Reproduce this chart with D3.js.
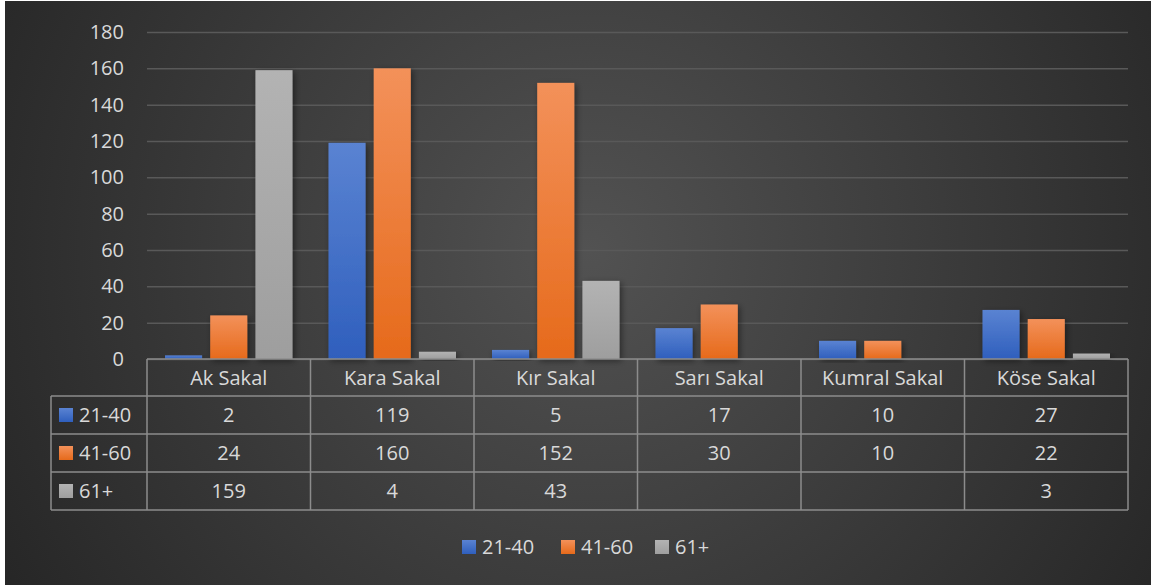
<!DOCTYPE html>
<html>
<head>
<meta charset="utf-8">
<script src="https://cdn.jsdelivr.net/npm/d3@7"></script>
<style>
  body { margin: 0; background: #fff; }
  text { font-family: "Open Sans", "Noto Sans", sans-serif; fill: #d9d9d9; }
</style>
</head>
<body>
<div id="chart"></div>
<script>
// data
var categories = ["Ak Sakal", "Kara Sakal", "Kır Sakal", "Sarı Sakal", "Kumral Sakal", "Köse Sakal"];
var seriesNames = ["21-40", "41-60", "61+"];
var values2140 = [2, 119, 5, 17, 10, 27];
var values4160 = [24, 160, 152, 30, 10, 22];
var values61 = [159, 4, 43, null, null, 3];
var yTicks = [0, 20, 40, 60, 80, 100, 120, 140, 160, 180];

var seriesValues = [values2140, values4160, values61];
var colorsTop = ["#5a83d2", "#f3915a", "#b3b3b3"];
var colorsBottom = ["#2f5fbd", "#e66a1b", "#9e9e9e"];
var legendFill = ["#4472c4", "#ed7d31", "#a5a5a5"];

var W = 1153, H = 588;
var plot = {left: 147, right: 1128, top: 32, bottom: 359};
var rowH = [37, 38, 38, 38];

var svg = d3.select("#chart").append("svg")
    .attr("width", W)
    .attr("height", H);

var defs = svg.append("defs");
var bg = defs.append("radialGradient")
    .attr("id", "bg")
    .attr("gradientUnits", "userSpaceOnUse")
    .attr("cx", 590).attr("cy", 250).attr("r", 680);
bg.append("stop").attr("offset", "0%").attr("stop-color", "#525252");
bg.append("stop").attr("offset", "100%").attr("stop-color", "#262626");

seriesNames.forEach(function(s, i) {
    var g = defs.append("linearGradient")
        .attr("id", "bar" + i)
        .attr("x1", 0).attr("y1", 0).attr("x2", 0).attr("y2", 1);
    g.append("stop").attr("offset", "0%").attr("stop-color", colorsTop[i]);
    g.append("stop").attr("offset", "100%").attr("stop-color", colorsBottom[i]);
});

var shadow = defs.append("filter").attr("id", "shadow")
    .attr("x", "-30%").attr("y", "-10%").attr("width", "160%").attr("height", "130%");
shadow.append("feDropShadow")
    .attr("dx", 2).attr("dy", 2).attr("stdDeviation", 3)
    .attr("flood-color", "#000").attr("flood-opacity", 0.45);

// background
svg.append("rect")
    .attr("x", 5).attr("y", 1)
    .attr("width", 1146).attr("height", 584)
    .attr("fill", "url(#bg)");

// scales
var y = d3.scaleLinear().domain([0, 180]).range([plot.bottom, plot.top]);
var x0 = d3.scaleBand().domain(categories).range([plot.left, plot.right]).padding(0);
var x1 = d3.scaleBand().domain(seriesNames).range([18, x0.bandwidth() - 18]).paddingInner(0.18);

// gridlines + y axis
var yAxis = svg.append("g")
    .attr("transform", "translate(" + plot.left + ",0)")
    .call(d3.axisLeft(y)
        .tickValues(yTicks)
        .tickSizeInner(-(plot.right - plot.left))
        .tickSizeOuter(0)
        .tickPadding(23));
yAxis.select(".domain").remove();
yAxis.selectAll("line").attr("stroke", "#595959").attr("stroke-width", 1.5);
yAxis.selectAll("text")
    .style("font-size", "20px")
    .style("font-family", "'Open Sans', sans-serif")
    .attr("fill", "#d9d9d9");

// bars
var groups = svg.append("g").selectAll("g")
    .data(categories)
    .enter().append("g")
    .attr("transform", function(d) { return "translate(" + x0(d) + ",0)"; });

groups.selectAll("rect")
    .data(function(d, ci) {
        return seriesNames.map(function(s, si) { return {s: s, si: si, v: seriesValues[si][ci]}; })
            .filter(function(e) { return e.v != null; });
    })
    .enter().append("rect")
    .attr("x", function(d) { return x1(d.s); })
    .attr("y", function(d) { return y(d.v); })
    .attr("width", x1.bandwidth())
    .attr("height", function(d) { return y(0) - y(d.v); })
    .attr("fill", function(d) { return "url(#bar" + d.si + ")"; })
    .attr("filter", "url(#shadow)");

// data table
var lineColor = "#8c8c8c";
var tbl = svg.append("g");
var rowY = [plot.bottom];
rowH.forEach(function(h, i) { rowY.push(rowY[i] + h); });
var tableLeft = 51;

// horizontal lines
tbl.append("line")
    .attr("x1", plot.left).attr("x2", plot.right)
    .attr("y1", rowY[0]).attr("y2", rowY[0]);
for (var r = 1; r < rowY.length; r++) {
    tbl.append("line")
        .attr("x1", tableLeft).attr("x2", plot.right)
        .attr("y1", rowY[r]).attr("y2", rowY[r]);
}
// vertical lines
tbl.append("line")
    .attr("x1", tableLeft).attr("x2", tableLeft)
    .attr("y1", rowY[1]).attr("y2", rowY[rowY.length - 1]);
categories.forEach(function(c) {
    tbl.append("line")
        .attr("x1", x0(c)).attr("x2", x0(c))
        .attr("y1", rowY[0]).attr("y2", rowY[rowY.length - 1]);
});
tbl.append("line")
    .attr("x1", plot.right).attr("x2", plot.right)
    .attr("y1", rowY[0]).attr("y2", rowY[rowY.length - 1]);
tbl.selectAll("line").attr("stroke", lineColor).attr("stroke-width", 1.5);

// header labels
tbl.selectAll("text.cat")
    .data(categories)
    .enter().append("text")
    .attr("class", "cat")
    .attr("x", function(d) { return x0(d) + x0.bandwidth() / 2; })
    .attr("y", (rowY[0] + rowY[1]) / 2)
    .attr("dy", "0.35em")
    .attr("text-anchor", "middle")
    .style("font-size", "20px")
    .text(function(d) { return d; });

// rows
seriesNames.forEach(function(s, si) {
    var cy = (rowY[si + 1] + rowY[si + 2]) / 2;
    tbl.append("rect")
        .attr("x", 59).attr("y", cy - 7)
        .attr("width", 14).attr("height", 14)
        .attr("fill", "url(#bar" + si + ")");
    tbl.append("text")
        .attr("x", 79).attr("y", cy)
        .attr("dy", "0.35em")
        .style("font-size", "20px")
        .text(s);
    categories.forEach(function(c, ci) {
        var v = seriesValues[si][ci];
        if (v == null) return;
        tbl.append("text")
            .attr("x", x0(c) + x0.bandwidth() / 2)
            .attr("y", cy)
            .attr("dy", "0.35em")
            .attr("text-anchor", "middle")
            .style("font-size", "20px")
            .text(v);
    });
});

// legend
var legendX = [462, 561, 655];
var legend = svg.append("g");
seriesNames.forEach(function(s, i) {
    legend.append("rect")
        .attr("x", legendX[i]).attr("y", 540)
        .attr("width", 14).attr("height", 14)
        .attr("fill", "url(#bar" + i + ")");
    legend.append("text")
        .attr("x", legendX[i] + 20).attr("y", 547)
        .attr("dy", "0.35em")
        .style("font-size", "20px")
        .text(s);
});
</script>
</body>
</html>
